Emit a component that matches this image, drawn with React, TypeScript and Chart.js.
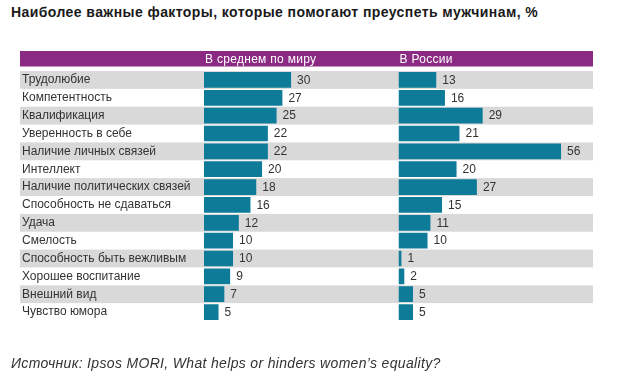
import React, { useEffect, useRef } from "react";
import { Chart, registerables } from "chart.js";

Chart.register(...registerables);

const chartTitle = "Наиболее важные факторы, которые помогают преуспеть мужчинам, %";
const sourceText = "Источник: Ipsos MORI, What helps or hinders women’s equality?";
const columnTitles = ["В среднем по миру", "В России"];

const categories = [
  "Трудолюбие",
  "Компетентность",
  "Квалификация",
  "Уверенность в себе",
  "Наличие личных связей",
  "Интеллект",
  "Наличие политических связей",
  "Способность не сдаваться",
  "Удача",
  "Смелость",
  "Способность быть вежливым",
  "Хорошее воспитание",
  "Внешний вид",
  "Чувство юмора",
];

const worldValues = [30, 27, 25, 22, 22, 20, 18, 16, 12, 10, 10, 9, 7, 5];
const russiaValues = [13, 16, 29, 21, 56, 20, 27, 15, 11, 10, 1, 2, 5, 5];

const FONT = "'Liberation Sans', Arial, sans-serif";
const PURPLE = "#8a2a82";
const TEAL = "#0e7b99";
const BAND = "#d9d9d9";
const TEXT = "#333333";

const decorPlugin = {
  id: "decor",
  beforeDraw(chart: any) {
    const { ctx, chartArea, scales } = chart;
    const y = scales.y;
    const left = y.left - 2;
    const right = chartArea.right;
    const n = categories.length;
    const pitch = (chartArea.bottom - chartArea.top) / n;
    ctx.save();
    ctx.fillStyle = BAND;
    for (let i = 0; i < n; i += 2) {
      const c = y.getPixelForValue(i);
      ctx.fillRect(left, c - pitch / 2, right - left, pitch);
    }
    const hTop = chartArea.top - 20;
    const hH = 15.5;
    ctx.fillStyle = PURPLE;
    ctx.fillRect(left, hTop, right - left, hH);
    ctx.fillStyle = "#ffffff";
    ctx.font = `12px ${FONT}`;
    try {
      (ctx as any).letterSpacing = "0.3px";
    } catch (e) {}
    ctx.textBaseline = "middle";
    ctx.textAlign = "left";
    const xs = [scales.x1, scales.x2];
    xs.forEach((s: any, i: number) => {
      ctx.fillText(columnTitles[i], s.left + 1, hTop + hH / 2 + 0.5);
    });
    ctx.restore();
  },
  afterDatasetsDraw(chart: any) {
    const { ctx } = chart;
    ctx.save();
    ctx.fillStyle = TEXT;
    ctx.font = `12px ${FONT}`;
    ctx.textBaseline = "middle";
    ctx.textAlign = "left";
    chart.data.datasets.forEach((ds: any, di: number) => {
      const meta = chart.getDatasetMeta(di);
      meta.data.forEach((bar: any, i: number) => {
        ctx.fillText(String(ds.data[i]), bar.x + 6, bar.y + 0.5);
      });
    });
    ctx.restore();
  },
};

export default function App() {
  const ref = useRef<HTMLCanvasElement | null>(null);

  useEffect(() => {
    if (!ref.current) return;
    const hiddenLinear = () => ({
      type: "linear" as const,
      position: "bottom" as const,
      stack: "cols",
      stackWeight: 1,
      min: 0,
      max: 67,
      display: true,
      ticks: { display: false },
      grid: { display: false, drawTicks: false },
      border: { display: false },
    });
    const chart = new Chart(ref.current, {
      type: "bar",
      data: {
        labels: categories,
        datasets: [
          {
            data: worldValues,
            xAxisID: "x1",
            backgroundColor: TEAL,
            grouped: false,
            barPercentage: 0.88,
            categoryPercentage: 1,
          } as any,
          {
            data: russiaValues,
            xAxisID: "x2",
            backgroundColor: TEAL,
            grouped: false,
            barPercentage: 0.88,
            categoryPercentage: 1,
          } as any,
        ],
      },
      options: {
        indexAxis: "y",
        responsive: false,
        animation: false,
        layout: { padding: { left: 22, right: 29, top: 71, bottom: 57 } },
        plugins: {
          legend: { display: false },
          tooltip: { enabled: false },
          title: { display: false },
        },
        scales: {
          x1: hiddenLinear(),
          x2: hiddenLinear(),
          y: {
            type: "category",
            position: "left",
            grid: { display: false, drawTicks: false },
            border: { display: false },
            ticks: {
              crossAlign: "far",
              autoSkip: false,
              padding: 0,
              color: TEXT,
              font: { family: FONT, size: 12 },
            },
            afterFit(scale: any) {
              scale.width = 182;
            },
          },
        } as any,
      },
      plugins: [decorPlugin],
    });
    return () => chart.destroy();
  }, []);

  return (
    <div style={{ position: "absolute", left: 0, top: 0, width: 622, height: 378, background: "#fff" }}>
      <div
        style={{
          position: "absolute",
          left: 11,
          top: 4,
          font: `bold 14px ${FONT}`,
          lineHeight: "16px",
          letterSpacing: "0.42px",
          color: "#1a1a1a",
          whiteSpace: "nowrap",
        }}
      >
        {chartTitle}
      </div>
      <canvas ref={ref} width={622} height={378} style={{ position: "absolute", left: 0, top: 0 }} />
      <div
        style={{
          position: "absolute",
          left: 11,
          top: 355,
          font: `italic 14px ${FONT}`,
          lineHeight: "16px",
          letterSpacing: "0.33px",
          color: TEXT,
          whiteSpace: "nowrap",
        }}
      >
        {sourceText}
      </div>
    </div>
  );
}
